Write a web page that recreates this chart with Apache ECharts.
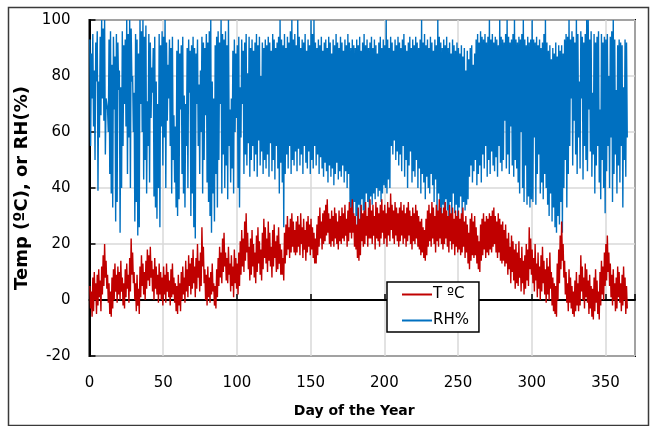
<!DOCTYPE html>
<html><head><meta charset="utf-8">
<script src="https://cdn.jsdelivr.net/npm/echarts@6/dist/echarts.min.js"></script>
<style>html,body{margin:0;padding:0;background:#fff}#c{width:652px;height:426px}</style>
</head><body><div id="c"></div>
<script>
// Daily maximum / minimum (day index 0..364)
const tMax = [
5,3,8,10,6,9,11,7,12,16, 20,14,9,6,3,8,11,13,9,12, 10,14,8,6,11,13,9,15,22,17, 10,6,9,4,12,16,13,10,14,18,
16,19,14,11,15,12,9,13,10,8, 12,9,13,10,7,11,13,8,6,5, 9,6,10,12,8,14,11,16,13,15, 18,12,15,20,14,17,26,19,11,9,
12,8,10,13,6,5,11,15,19,17, 22,24,17,15,19,13,16,12,18,15, 13,17,21,25,22,28,31,24,19,22, 25,20,17,23,26,21,18,24,29,26,
22,28,24,19,25,27,21,23,26,20, 18,15,24,27,30,26,29,31,28,25, 28,30,27,31,26,29,25,28,30,27, 29,26,24,22,27,30,33,28,31,32,
34,36,31,29,32,30,33,31,28,32, 30,33,31,34,29,32,35,33,36,31, 30,27,33,29,34,31,32,35,30,33, 36,32,34,30,35,33,31,34,36,32,
34,31,35,33,38,34,32,35,33,31, 33,35,32,34,31,33,35,32,30,33, 31,34,32,30,28,29,26,25,29,32, 34,31,35,33,30,34,32,36,33,31,
33,35,32,30,34,31,33,29,32,30, 32,29,31,33,28,30,27,24,29,31, 28,30,26,23,21,27,29,31,28,30, 29,31,30,32,33,30,28,31,29,27,
28,25,27,22,24,19,23,21,18,20, 17,21,15,19,14,16,20,18,26,22, 18,15,20,13,17,12,16,19,14,11, 15,12,17,10,8,6,5,13,18,23,
28,20,14,10,6,11,8,5,3,7, 10,6,9,16,12,8,13,11,7,9, 5,4,8,11,7,3,10,14,12,17, 20,23,17,13,9,11,6,8,12,10,
6,9,12,8,5
];
const tMin = [
-3,-6,-4,0,-5,-2,1,-4,2,5, 8,4,-1,-5,-6,-3,0,3,-1,2, 0,3,-2,-3,1,4,-1,3,9,6, 0,-4,-2,-5,1,5,2,0,4,7,
5,8,3,0,4,2,-1,2,0,-2, 2,-1,3,1,-2,1,2,-1,-4,-5, -2,-4,0,2,-1,3,1,5,2,4, 6,1,4,8,3,5,12,6,0,-2,
1,-1,2,3,-2,-3,1,5,8,6, 10,12,7,6,9,3,5,1,6,4, 2,5,9,12,10,14,17,11,7,9, 12,8,6,10,13,9,7,11,15,13,
10,14,12,8,12,15,10,11,13,9, 9,7,13,16,18,15,17,19,17,16, 17,19,16,20,15,18,14,17,19,16, 18,15,13,13,16,19,22,18,20,21,
23,24,20,19,21,19,22,20,18,21, 20,22,21,23,19,21,24,22,24,19, 18,15,14,16,21,19,20,23,19,22, 22,20,23,18,22,21,19,22,24,20,
22,19,23,21,25,22,20,23,21,19, 21,23,20,22,19,21,23,20,18,21, 20,22,19,18,16,17,15,14,16,19, 21,19,22,20,17,21,19,22,20,18,
20,22,19,17,21,18,20,16,19,17, 18,16,17,19,15,17,13,11,14,16, 15,16,13,11,10,14,16,18,15,17, 16,18,17,19,20,17,15,17,14,13,
14,12,13,9,11,6,10,7,4,6, 5,8,3,6,2,4,7,5,11,9, 6,3,7,1,4,0,3,6,2,-1, 2,0,4,-2,-4,-5,-6,0,6,11,
14,8,2,-1,-4,-1,-3,-5,-6,-4, -2,-4,-2,3,0,-3,1,-1,-5,-3, -6,-7,-4,-1,-5,-7,-2,2,0,5, 7,10,5,1,-2,0,-4,-3,1,-1,
-4,-2,0,-5,-3
];
const rhMax = [
93,88,95,82,92,96,78,94,100,97, 100,72,68,93,96,84,94,87,95,92, 82,76,96,91,93,100,95,100,97,80, 74,95,93,88,100,96,100,94,98,71,
95,92,83,90,94,78,70,95,91,96, 94,100,92,84,93,90,94,66,62,89, 93,88,91,94,73,70,90,93,89,91, 94,90,88,93,77,82,94,92,90,95,
92,96,100,78,72,91,94,96,92,100, 95,93,96,91,100,68,72,89,93,88, 91,94,76,93,89,92,95,81,94,90, 93,89,92,95,91,94,80,92,90,93,
91,94,92,89,95,93,90,92,94,100, 93,91,95,90,94,92,96,100,93,95, 91,100,94,90,93,92,95,89,93,91, 100,95,100,92,90,93,91,94,89,92,
93,90,94,92,88,93,91,95,92,90, 94,92,89,93,91,95,92,90,93,91, 90,93,91,94,89,92,95,91,93,90, 92,94,90,93,91,88,92,94,90,93,
91,100,93,90,94,92,89,93,91,94, 92,90,93,95,91,89,92,94,90,93, 91,94,92,90,93,100,92,95,91,93, 90,94,92,89,93,91,100,94,92,90,
93,91,94,90,92,88,93,91,89,92, 90,88,91,87,90,82,89,86,90,91, 84,88,93,95,92,96,94,93,95,92, 94,100,93,95,92,94,93,91,100,94,
93,92,95,100,94,92,93,95,100,93, 92,94,93,95,100,93,91,94,92,93, 100,93,92,94,91,93,90,92,95,100, 92,89,91,86,90,88,92,87,91,89,
91,88,93,95,94,100,93,96,94,92, 100,95,78,96,94,92,95,100,100,93, 96,74,95,92,94,96,68,95,92,94, 93,95,80,94,96,100,93,75,91,93,
92,91,76,93,92
];
const rhMin = [
55,72,62,50,78,39,58,66,72,64, 52,70,60,45,38,33,68,28,35,75, 24,40,55,70,62,45,58,40,78,60, 28,35,23,26,70,60,43,50,38,55,
42,65,74,37,33,29,40,26,62,48, 58,40,64,72,55,38,50,42,33,30, 36,68,45,38,33,55,40,74,30,38, 26,22,70,55,45,60,38,50,66,42,
35,30,24,38,28,45,33,50,70,38, 52,40,48,36,55,42,47,38,60,65, 40,33,58,70,45,52,48,56,44,50, 55,46,52,44,57,48,53,45,50,47,
52,44,56,46,50,43,55,47,38,49, 42,26,45,52,47,55,45,50,48,53, 46,54,48,52,45,55,49,47,53,45, 50,47,55,48,52,45,51,47,44,49,
46,42,48,44,47,41,45,49,43,46, 44,48,42,46,40,45,33,30,28,35, 30,26,34,24,36,32,29,38,35,33, 37,34,38,36,40,37,39,35,38,41,
40,38,43,40,55,52,57,50,53,48, 52,46,55,44,50,40,48,53,42,46, 44,50,40,47,38,45,42,36,44,40, 38,45,41,35,43,30,38,33,28,34,
30,36,32,28,35,27,38,31,34,29, 33,37,30,35,32,34,36,44,48,42, 46,50,41,45,48,42,52,47,55,44, 50,45,53,48,46,51,44,55,49,46,
50,64,47,52,45,62,48,44,50,47, 42,38,60,40,35,48,34,37,33,36, 35,58,34,45,52,38,42,36,45,40, 34,30,38,28,33,26,24,30,27,35,
24,40,50,33,45,55,72,48,64,52, 45,58,47,72,43,55,50,46,68,53, 44,52,38,48,55,42,36,50,40,31, 46,55,40,58,35,45,52,38,48,42,
55,33,50,44,58
];
const seriesNames = ['T ºC', 'RH%'];
const yTicks = [-20, 0, 20, 40, 60, 80, 100];
const xTicks = [0, 50, 100, 150, 200, 250, 300, 350];

const tData = [], rhData = [];
for (let i = 0; i < tMax.length; i++) {
  tData.push([i + 0.25, tMax[i]], [i + 0.75, tMin[i]]);
  rhData.push([i + 0.25, rhMax[i]], [i + 0.75, rhMin[i]]);
}

const chart = echarts.init(document.getElementById('c'), null, {renderer: 'canvas'});
const FONT = 'DejaVu Sans';
chart.setOption({
  backgroundColor: '#fff',
  animation: false,
  graphic: [{
    type: 'rect', left: 6, top: 5, silent: true, z: -1,
    shape: {width: 640, height: 418},
    style: {fill: 'none', stroke: '#3a3a3a', lineWidth: 1.5}
  }],
  grid: {left: 89.5, top: 20, right: 17, bottom: 70, show: true, borderColor: '#000', borderWidth: 2, backgroundColor: 'transparent'},
  legend: {
    data: seriesNames, orient: 'vertical', left: 387, top: 282,
    backgroundColor: '#fff', borderColor: '#000', borderWidth: 1.5,
    padding: [5, 10, 4, 15], itemGap: 11, itemWidth: 30, itemHeight: 2, icon: 'rect',
    textStyle: {fontFamily: FONT, fontSize: 15, color: '#000', padding: [0, 0, 0, -4]}
  },
  xAxis: {
    type: 'value', min: 0, max: 370, interval: 50,
    name: 'Day of the Year', nameLocation: 'middle', nameGap: 48,
    nameTextStyle: {fontFamily: FONT, fontSize: 14, fontWeight: 'bold', color: '#000', padding: [0, 16, 0, 0]},
    axisLine: {show: true, lineStyle: {color: '#000', width: 2}},
    axisTick: {show: true, inside: true, length: 6, lineStyle: {color: '#000', width: 1.5}},
    axisLabel: {fontFamily: FONT, fontSize: 15, color: '#000', margin: 20,
      formatter: v => xTicks.indexOf(v) >= 0 ? String(v) : ''},
    splitLine: {show: true, lineStyle: {color: '#d9d9d9', width: 1.5}}
  },
  yAxis: {
    type: 'value', min: -20, max: 100, interval: 20,
    name: 'Temp (ºC), or RH(%)', nameLocation: 'middle', nameGap: 46,
    nameTextStyle: {fontFamily: FONT, fontSize: 18, fontWeight: 'bold', color: '#000'},
    axisLine: {show: true, lineStyle: {color: '#000', width: 2}},
    axisTick: {show: true, inside: true, length: 6, lineStyle: {color: '#000', width: 1.5}},
    axisLabel: {fontFamily: FONT, fontSize: 15, color: '#000', margin: 19,
      formatter: v => yTicks.indexOf(v) >= 0 ? String(v) : ''},
    splitLine: {show: true, lineStyle: {color: '#d9d9d9', width: 1.5}}
  },
  series: [
    {name: 'RH%', type: 'line', data: rhData, symbol: 'none', z: 2,
     lineStyle: {color: '#0070C0', width: 1.4}, itemStyle: {color: '#0070C0'}},
    {name: 'T ºC', type: 'line', data: tData, symbol: 'none', z: 3,
     lineStyle: {color: '#C00000', width: 1.4}, itemStyle: {color: '#C00000'}}
  ]
});
</script></body></html>
